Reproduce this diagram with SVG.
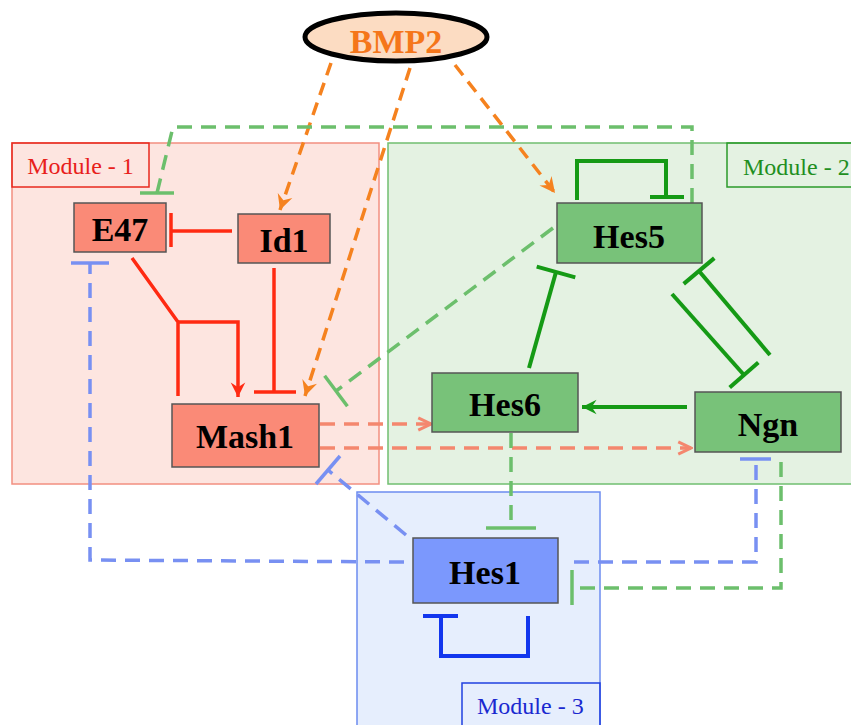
<svg xmlns="http://www.w3.org/2000/svg" width="851" height="725" viewBox="0 0 851 725">
  <style>
    .node { stroke: #555; stroke-width: 1.5; }
    .salmon { fill: #fa8a77; }
    .green { fill: #78c279; }
    .blue { fill: #7b98fd; }
    .lbl { font-family: "Liberation Serif", "Times New Roman", serif; font-weight: bold; font-size: 34px; fill: #000; text-anchor: middle; }
    .mod { font-family: "Liberation Serif", "Times New Roman", serif; font-size: 24px; }
    .edge { fill: none; }
    .red-solid { stroke: #ff2a12; stroke-width: 3.5; }
    .green-solid { stroke: #159a15; stroke-width: 4; }
    .blue-solid { stroke: #1236ee; stroke-width: 4; }
    .orange-dash { stroke: #f5821f; stroke-width: 3.5; stroke-dasharray: 13 8; }
    .green-dash { stroke: #6cbf6c; stroke-width: 3.5; stroke-dasharray: 15 9; }
    .blue-dash { stroke: #7890f2; stroke-width: 3.5; stroke-dasharray: 15 9; }
    .salmon-dash { stroke: #f4876e; stroke-width: 3.5; stroke-dasharray: 15 9; }
    .bar { stroke-dasharray: none; }
  </style>
  <defs>
    <marker id="ah-orange" viewBox="0 0 14 14" refX="13" refY="7" markerWidth="18" markerHeight="18" markerUnits="userSpaceOnUse" orient="auto">
      <path d="M1,1 L13,7 L1,13 L5,7 Z" fill="#f5821f"/>
    </marker>
    <marker id="ah-red" viewBox="0 0 14 14" refX="13" refY="7" markerWidth="17" markerHeight="17" markerUnits="userSpaceOnUse" orient="auto">
      <path d="M1,1 L13,7 L1,13 L5,7 Z" fill="#ff2a12"/>
    </marker>
    <marker id="ah-green" viewBox="0 0 14 14" refX="13" refY="7" markerWidth="17" markerHeight="17" markerUnits="userSpaceOnUse" orient="auto">
      <path d="M1,1 L13,7 L1,13 L5,7 Z" fill="#159a15"/>
    </marker>
    <marker id="ah-salmon" viewBox="0 0 14 14" refX="12.5" refY="7" markerWidth="17" markerHeight="17" markerUnits="userSpaceOnUse" orient="auto">
      <path d="M2,2 L12.5,7 L2,12" fill="none" stroke="#f4876e" stroke-width="2.5"/>
    </marker>
  </defs>

  <!-- modules -->
  <g id="module-1">
    <rect x="12" y="143" width="367" height="341" fill="#fde5e0" stroke="#f28f80" stroke-width="1.5"/>
    <rect x="12" y="143" width="137" height="44" fill="none" stroke="#e8281e" stroke-width="1.5"/>
    <text class="mod" x="80.5" y="174" text-anchor="middle" fill="#e8201a">Module - 1</text>
  </g>
  <g id="module-2">
    <rect x="388" y="143" width="470" height="341" fill="#e4f2e2" stroke="#70bf70" stroke-width="1.5"/>
    <rect x="727" y="143" width="130" height="44" fill="none" stroke="#2a9a2a" stroke-width="1.5"/>
    <text class="mod" x="743" y="175" fill="#1f8f1f">Module - 2</text>
  </g>
  <g id="module-3">
    <rect x="357" y="492" width="243" height="240" fill="#e6eefd" stroke="#6c8cf0" stroke-width="1.5"/>
    <rect x="462" y="683" width="138" height="50" fill="none" stroke="#2040e0" stroke-width="1.5"/>
    <text class="mod" x="477" y="714" fill="#1a28d0">Module - 3</text>
  </g>

  <!-- connectors -->
  <g id="connectors" class="edge">
    <!-- BMP2 activations -->
    <path class="orange-dash" d="M331,63 L280,210" marker-end="url(#ah-orange)"/>
    <path class="orange-dash" d="M410,68 L305,396" marker-end="url(#ah-orange)"/>
    <path class="orange-dash" d="M455,65 L555,193" marker-end="url(#ah-orange)"/>

    <!-- Hes5 -| E47 (long way over the top) -->
    <path class="green-dash" d="M692,203 L692,127 L173,127 L157,193"/>
    <line class="green-dash bar" x1="140" y1="193" x2="174" y2="193"/>

    <!-- Hes5 self-inhibition -->
    <path class="green-solid" d="M577,200 L577,161 L666,161 L666,197"/>
    <line class="green-solid" x1="650" y1="197" x2="684" y2="197"/>

    <!-- Id1 -| E47 -->
    <path class="red-solid" d="M232,231 L171,231"/>
    <line class="red-solid" x1="171" y1="213" x2="171" y2="247"/>

    <!-- E47 -> Mash1 -->
    <path class="red-solid" d="M132,258 L178,322 L178,396"/>
    <path class="red-solid" d="M178,322 L238,322 L238,397" marker-end="url(#ah-red)"/>

    <!-- Id1 -| Mash1 -->
    <path class="red-solid" d="M274,268 L274,392"/>
    <line class="red-solid" x1="254" y1="392" x2="296" y2="392"/>

    <!-- Hes5 -| Mash1 -->
    <path class="green-dash" d="M553,228 L336,391"/>
    <line class="green-dash bar" x1="324.6" y1="375.8" x2="347.4" y2="406.2"/>

    <!-- Hes6 -| Hes5 -->
    <path class="green-solid" d="M529,368 L556,272"/>
    <line class="green-solid" x1="536.7" y1="266.6" x2="575.3" y2="277.4"/>

    <!-- Ngn -> Hes6 -->
    <path class="green-solid" d="M687,407 L582,407" marker-end="url(#ah-green)"/>

    <!-- Hes5 -| Ngn -->
    <path class="green-solid" d="M672,294 L744,375"/>
    <line class="green-solid" x1="729.7" y1="387.5" x2="758.3" y2="362.5"/>

    <!-- Ngn -| Hes5 -->
    <path class="green-solid" d="M770,355 L699,271"/>
    <line class="green-solid" x1="683.7" y1="283.9" x2="714.3" y2="258.1"/>

    <!-- Mash1 -> Hes6, Mash1 -> Ngn -->
    <path class="salmon-dash" d="M320,424 L431,424" marker-end="url(#ah-salmon)"/>
    <path class="salmon-dash" d="M320,448 L691,448" marker-end="url(#ah-salmon)"/>

    <!-- Hes6 -| Hes1 -->
    <path class="green-dash" d="M511,433 L511,528"/>
    <line class="green-dash bar" x1="486" y1="528" x2="536" y2="528"/>

    <!-- Hes1 -| E47 -->
    <path class="blue-dash" d="M404,562 L90,560 L90,263"/>
    <line class="blue-dash bar" x1="71" y1="263" x2="109" y2="263"/>

    <!-- Hes1 -| Mash1 -->
    <path class="blue-dash" d="M406,535 L328,470"/>
    <line class="blue-dash bar" x1="316" y1="484" x2="340" y2="456"/>

    <!-- Hes1 -| Ngn -->
    <path class="blue-dash" d="M574,562 L756,562 L756,459"/>
    <line class="blue-dash bar" x1="740" y1="459" x2="771" y2="459"/>

    <!-- Ngn -| Hes1 -->
    <path class="green-dash" d="M781,462 L781,588 L572,588"/>
    <line class="green-dash bar" x1="572" y1="570" x2="572" y2="605"/>

    <!-- Hes1 self-inhibition -->
    <path class="blue-solid" d="M528,616 L528,656 L441,656 L441,616"/>
    <line class="blue-solid" x1="423" y1="616" x2="458" y2="616"/>
  </g>

  <!-- nodes -->
  <g id="BMP2">
    <ellipse cx="396" cy="37" rx="91" ry="24" fill="#fcdcc2" stroke="#000" stroke-width="5"/>
    <text class="lbl" x="396" y="53" style="fill:#f5761a">BMP2</text>
  </g>
  <g id="E47">
    <rect class="node salmon" x="74" y="203" width="92" height="49"/>
    <text class="lbl" x="120" y="241">E47</text>
  </g>
  <g id="Id1">
    <rect class="node salmon" x="238" y="214" width="92" height="49"/>
    <text class="lbl" x="284" y="252">Id1</text>
  </g>
  <g id="Mash1">
    <rect class="node salmon" x="172" y="404" width="147" height="63"/>
    <text class="lbl" x="245" y="448">Mash1</text>
  </g>
  <g id="Hes5">
    <rect class="node green" x="557" y="203" width="145" height="60"/>
    <text class="lbl" x="629" y="248">Hes5</text>
  </g>
  <g id="Hes6">
    <rect class="node green" x="432" y="373" width="146" height="59"/>
    <text class="lbl" x="505" y="416">Hes6</text>
  </g>
  <g id="Ngn">
    <rect class="node green" x="695" y="392" width="146" height="60"/>
    <text class="lbl" x="768" y="436">Ngn</text>
  </g>
  <g id="Hes1">
    <rect class="node blue" x="413" y="538" width="145" height="65"/>
    <text class="lbl" x="485" y="584">Hes1</text>
  </g>
</svg>
